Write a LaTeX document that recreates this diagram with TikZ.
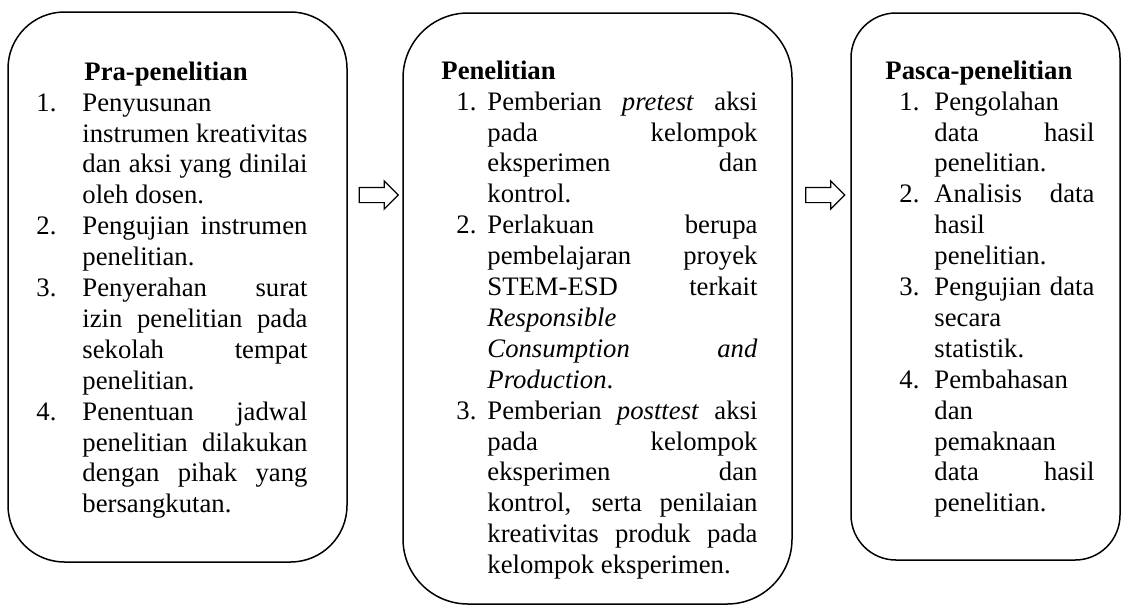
\documentclass[tikz,border=0pt]{standalone}
\usepackage{fontspec}
\setmainfont{Liberation Serif}
\usepackage{tikz}
\usetikzlibrary{%
  calc,%
  shapes.arrows%
}
\tolerance=10000
\hyphenpenalty=10000
\exhyphenpenalty=10000
\newlength{\numind}
\newlength{\itmind}
\newcommand{\itm}[2]{\par\noindent\hangindent=\itmind\hangafter=1%
  \hspace*{\numind}\makebox[\dimexpr\itmind-\numind\relax][l]{#1}#2}

\begin{document}
\begin{tikzpicture}[x=1pt,y=-1pt,
  stage/.style={draw,line width=1.5pt,inner sep=0pt},
  body/.style={text width=#1,align=justify,inner sep=0pt,anchor=base west,
    font=\fontsize{26.7}{30.9}\selectfont},
  blockarrow/.style={single arrow,draw,line width=1.2pt,inner xsep=0pt,inner ysep=7pt,
    minimum height=39pt,single arrow head extend=6.5pt}]
\useasboundingbox (0,0) rectangle (1123,606);

\node[stage,minimum width=339,minimum height=550,rounded corners=56.5] (pra) at (177.5,287) {};
\node[stage,minimum width=389,minimum height=591,rounded corners=65] (pen) at (597.5,308.5) {};
\node[stage,minimum width=269,minimum height=547,rounded corners=45] (pasca) at (985.5,286.5) {};

\node[body=271pt] (praT) at ($(pra.north west)+(29,69)$) {%
\setlength\numind{0pt}\setlength\itmind{46pt}%
\hspace*{48pt}\textbf{Pra-penelitian}
\itm{1.}{Penyusunan\linebreak instrumen kreativitas\linebreak dan aksi yang dinilai\linebreak oleh dosen.}
\itm{2.}{Pengujian instrumen\linebreak penelitian.}
\itm{3.}{Penyerahan surat\linebreak izin penelitian pada\linebreak sekolah tempat\linebreak penelitian.}
\itm{4.}{Penentuan jadwal\linebreak penelitian dilakukan\linebreak dengan pihak yang\linebreak bersangkutan.}\par};

\node[body=316pt] (penT) at ($(pen.north west)+(39,67)$) {%
\setlength\numind{15pt}\setlength\itmind{46pt}%
\textbf{Penelitian}
\itm{1.}{Pemberian \textit{pretest} aksi\linebreak pada kelompok\linebreak eksperimen dan\linebreak kontrol.}
\itm{2.}{Perlakuan berupa\linebreak pembelajaran proyek\linebreak STEM-ESD terkait\linebreak \textit{Responsible}\linebreak \textit{Consumption and}\linebreak \textit{Production}.}
\itm{3.}{Pemberian \textit{posttest} aksi\linebreak pada kelompok\linebreak eksperimen dan\linebreak kontrol, serta penilaian\linebreak kreativitas produk pada\linebreak kelompok eksperimen.}\par};

\node[body=209pt] (pascaT) at ($(pasca.north west)+(35,67)$) {%
\setlength\numind{14pt}\setlength\itmind{49pt}%
\textbf{Pasca-penelitian}
\itm{1.}{Pengolahan\linebreak data hasil\linebreak penelitian.}
\itm{2.}{Analisis data\linebreak hasil\linebreak penelitian.}
\itm{3.}{Pengujian data\linebreak secara\linebreak statistik.}
\itm{4.}{Pembahasan\linebreak dan\linebreak pemaknaan\linebreak data hasil\linebreak penelitian.}\par};

\coordinate (lvl) at (0,195);
\path ($(pra.east)!.5!(pen.west)$) coordinate (g1)
      ($(pen.east)!.5!(pasca.west)$) coordinate (g2);
\node[blockarrow] (ar1) at (g1 |- lvl) {};
\node[blockarrow] (ar2) at (g2 |- lvl) {};
\end{tikzpicture}
\end{document}
